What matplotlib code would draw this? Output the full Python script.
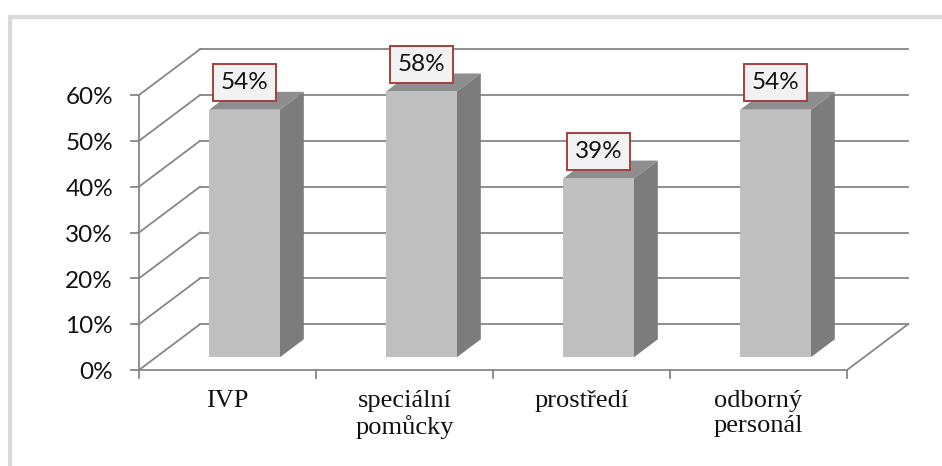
import numpy as np
import matplotlib.pyplot as plt
from matplotlib.patches import Polygon, Rectangle

categories = ["IVP", "speciální\npomůcky", "prostředí", "odborný\npersonál"]
values = [54, 58, 39, 54]
y_ticks = [0, 10, 20, 30, 40, 50, 60]

# oblique 3D look: how far the back wall sits from the front plane
DEPTH_X = 0.345   # in category units
DEPTH_Y = 10.0    # in percent units
BAR_W = 0.40
BAR_FRONT = 0.28  # depth fraction of bar front face
BAR_BACK = 0.67

GRID = "#868686"
FRONT = "#bfbfbf"
SIDE = "#7c7c7c"
TOP = "#8e8e8e"

fig = plt.figure(figsize=(9.42, 4.66), dpi=100)
ax = fig.add_axes([0, 0, 1, 1])
ax.axis("off")

# pixel layout of the plot area -> data limits
x0, px_cat, y0, px_pct = 139, 177.0, 370, 4.583
ax.set_xlim(-x0 / px_cat, (942 - x0) / px_cat)
ax.set_ylim((y0 - 466) / px_pct, y0 / px_pct)

# outer chart frame (runs off the right and bottom edge)
fig.patches.append(Rectangle((10 / 942, -0.1), 1.2, 1 - 16.5 / 466 + 0.1,
                             transform=fig.transFigure, fill=False,
                             ec="#d9d9d9", lw=3, zorder=0))

n = len(categories)
lw = 1.3
# back wall gridlines and left wall diagonals
for v in y_ticks:
    ax.plot([DEPTH_X, n + DEPTH_X], [v + DEPTH_Y, v + DEPTH_Y], color=GRID, lw=lw, zorder=1)
    ax.plot([0, DEPTH_X], [v, v + DEPTH_Y], color=GRID, lw=lw, zorder=1)
    ax.plot([-0.045, 0], [v, v], color=GRID, lw=lw, zorder=1)
    ax.text(-0.147, v - 0.6, f"{v}%", ha="right", va="center",
            fontsize=17.5, family="Lato", color="#111111")

# y axis, floor front edge and right edge
ax.plot([0, 0], [0, y_ticks[-1]], color=GRID, lw=lw, zorder=1)
ax.plot([0, n], [0, 0], color=GRID, lw=lw, zorder=1)
ax.plot([n, n + DEPTH_X], [0, DEPTH_Y], color=GRID, lw=lw, zorder=1)
for i in range(n + 1):
    ax.plot([i, i], [0, -1.75], color=GRID, lw=lw, zorder=1)

for i, (cat, v) in enumerate(zip(categories, values)):
    xl = i + 0.5 - BAR_W / 2
    xr = i + 0.5 + BAR_W / 2
    fx, fy = BAR_FRONT * DEPTH_X, BAR_FRONT * DEPTH_Y
    bx, by = BAR_BACK * DEPTH_X, BAR_BACK * DEPTH_Y
    top = Polygon([(xl + fx, v + fy), (xr + fx, v + fy), (xr + bx, v + by), (xl + bx, v + by)],
                  closed=True, fc=TOP, ec="none", zorder=3)
    side = Polygon([(xr + fx, fy), (xr + bx, by), (xr + bx, v + by), (xr + fx, v + fy)],
                   closed=True, fc=SIDE, ec="none", zorder=3)
    front = Rectangle((xl + fx, fy), BAR_W, v, fc=FRONT, ec="none", zorder=4)
    for p in (top, side, front):
        ax.add_patch(p)
    ax.annotate(f"{v}%", xy=(i + 0.5 + fx, v + fy), xytext=(0, 19.5),
                textcoords="offset points", ha="center", va="center",
                fontsize=17.5, family="Lato", color="#111111", zorder=6,
                bbox=dict(boxstyle="square,pad=0.33", fc="#f2f2f2", ec="#a5403d", lw=1.4))
    ax.text(i + 0.5, -4.4, cat, ha="center", va="top", fontsize=19,
            family="Liberation Serif", linespacing=1.15, color="#111111")

fig.savefig("out.png", dpi=100)
